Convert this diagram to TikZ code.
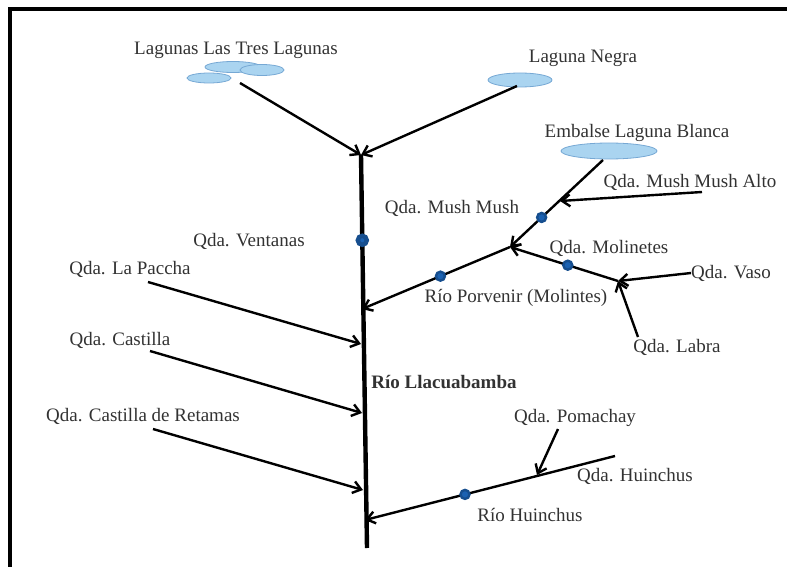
\documentclass[tikz,border=0pt]{standalone}
\usepackage{fontspec}
\setmainfont{Liberation Serif}
\usepackage{tikz}
\usetikzlibrary{arrows.meta, shapes.geometric, calc, positioning}
\definecolor{lakefill}{RGB}{170,212,240}
\definecolor{lakedraw}{RGB}{118,168,212}
\definecolor{dotblue}{RGB}{28,98,178}
\definecolor{txtgray}{RGB}{50,50,50}
\tikzstyle{tag} = [text=txtgray, font=\fontsize{19}{22}\selectfont, inner sep=0pt]
\tikzstyle{lagoon} = [ellipse, draw=lakedraw, fill=lakefill, thick, inner sep=0pt]
\tikzstyle{station} = [circle, fill=dotblue, draw=dotblue!80!black, inner sep=0pt, minimum size=9pt]
\tikzstyle{river} = [line width=2.4pt]
\tikzstyle{mainriver} = [line width=4.4pt]
\tikzstyle{arrow} = [line width=2.4pt, -{Straight Barb[length=8pt, width=12pt]}]

\begin{document}
\begin{tikzpicture}[x=1pt, y=-1pt]
	\useasboundingbox (0,0) rectangle (787,567);
	\draw [line width=4pt] (10,567) -- (10,9.5) -- (787,9.5);
	% lagunas
	\node (TresA) [lagoon, minimum width=56pt, minimum height=11pt] at (233,67) {};
	\node (TresB) [lagoon, minimum width=44pt, minimum height=11pt] at (262,70) {};
	\node (TresC) [lagoon, minimum width=44pt, minimum height=10pt] at (209,78) {};
	\node (Negra) [lagoon, minimum width=64pt, minimum height=14pt] at (520,80) {};
	\node (Blanca) [lagoon, minimum width=96pt, minimum height=16pt] at (609,151) {};
	% textos
	\node (TresLagunas) [tag] at (236,50) {Lagunas Las Tres Lagunas};
	\node (LagunaNegra) [tag] at (583,58) {Laguna Negra};
	\node (EmbalseBlanca) [tag] at (637,133) {Embalse Laguna Blanca};
	\node (MushAlto) [tag] at (690,182) {Qda. Mush Mush Alto};
	\node (MushMush) [tag] at (452,208) {Qda. Mush Mush};
	\node (Ventanas) [tag] at (249,241) {Qda. Ventanas};
	\node (Molinetes) [tag] at (609,248) {Qda. Molinetes};
	\node (Paccha) [tag] at (130,269) {Qda. La Paccha};
	\node (Vaso) [tag] at (731,273) {Qda. Vaso};
	\node (Porvenir) [tag] at (516,298) {Río Porvenir (Molintes)};
	\node (Castilla) [tag] at (120,340) {Qda. Castilla};
	\node (Labra) [tag] at (677,347) {Qda. Labra};
	\node (Llacuabamba) [tag, font=\fontsize{19}{22}\selectfont\bfseries] at (444,382) {Río Llacuabamba};
	\node (Retamas) [tag] at (143,416) {Qda. Castilla de Retamas};
	\node (Pomachay) [tag] at (575,418) {Qda. Pomachay};
	\node (QdaHuinchus) [tag] at (635,476) {Qda. Huinchus};
	\node (RioHuinchus) [tag] at (530,515) {Río Huinchus};
	% puntos de la red
	\coordinate (Confluence) at (361,155);
	\coordinate (MainEnd) at (367,548);
	\coordinate (TresOut) at (240,83);
	\coordinate (NegraOut) at (517,86);
	\coordinate (BlancaOut) at (603,160);
	\coordinate (MushJoin) at (510,247);
	\coordinate (MushAltoIn) at (702,192);
	\coordinate (MushAltoJoin) at (560,201);
	\coordinate (VasoJoin) at (618,281);
	\coordinate (LabraIn) at (638,337);
	\coordinate (PorvenirJoin) at (362,309);
	\coordinate (PacchaIn) at (148,282);
	\coordinate (PacchaJoin) at (361,344);
	\coordinate (CastillaIn) at (150,351);
	\coordinate (CastillaJoin) at (362,413);
	\coordinate (RetamasIn) at (153,429);
	\coordinate (RetamasJoin) at (363,490);
	\coordinate (HuinchusIn) at (615,456);
	\coordinate (HuinchusJoin) at (365,520);
	\coordinate (PomachayIn) at (558,429);
	\coordinate (PomachayJoin) at (537,475);
	% cauces
	\draw [mainriver] (Confluence) -- node (VentanasDot) [station, pos=0.217] {} (MainEnd);
	\draw [arrow] (TresOut) -- (Confluence);
	\draw [arrow] (NegraOut) -- (Confluence);
	\draw [arrow] (BlancaOut) -- node (MushDot) [station, pos=0.66] {} (MushJoin);
	\draw [arrow] (MushAltoIn) -- (MushAltoJoin);
	\draw [arrow] (VasoJoin) -- node (MolinetesDot) [station, pos=0.465] {} (MushJoin);
	\draw [arrow] (Vaso.west) -- (VasoJoin);
	\draw [arrow] (LabraIn) -- (VasoJoin);
	\draw [arrow] (MushJoin) -- node (PorvenirDot) [station, pos=0.47] {} (PorvenirJoin);
	\draw [arrow] (PacchaIn) -- (PacchaJoin);
	\draw [arrow] (CastillaIn) -- (CastillaJoin);
	\draw [arrow] (RetamasIn) -- (RetamasJoin);
	\draw [arrow] (HuinchusIn) -- node (HuinchusDot) [station, pos=0.6] {} (HuinchusJoin);
	\draw [arrow] (PomachayIn) -- (PomachayJoin);
\end{tikzpicture}
\end{document}
